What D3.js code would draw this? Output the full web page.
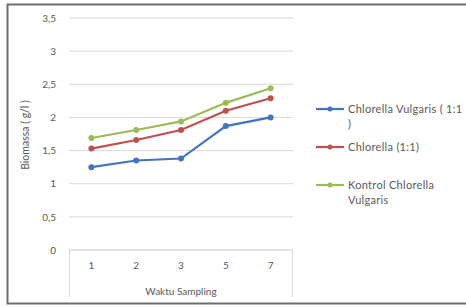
<!DOCTYPE html>
<html>
<head>
<meta charset="utf-8">
<script src="https://cdn.jsdelivr.net/npm/d3@7"></script>
<style>
  body { margin: 0; background: #fff; }
  text { font-family: Lato, "Open Sans", sans-serif; fill: #595959; }
</style>
</head>
<body>
<div id="chart-area"></div>
<script>
// data
var categories = ["1", "2", "3", "5", "7"];
var seriesNames = ["Chlorella Vulgaris ( 1:1 )", "Chlorella (1:1)", "Kontrol Chlorella Vulgaris"];
var vulgaris = [1.25, 1.35, 1.38, 1.87, 2.0];
var chlorella = [1.53, 1.66, 1.81, 2.10, 2.29];
var kontrol = [1.69, 1.81, 1.94, 2.22, 2.44];
var colors = ["#4472c4", "#c0504d", "#9bbb59"];
var yTicks = [0, 0.5, 1, 1.5, 2, 2.5, 3, 3.5];

var series = [vulgaris, chlorella, kontrol];

var W = 466, H = 307;
var margin = { left: 69, top: 18, right: 173, bottom: 57 };
var width = W - margin.left - margin.right,
    height = H - margin.top - margin.bottom;

var svg = d3.select("#chart-area")
  .append("svg")
  .attr("width", W)
  .attr("height", H);

// frame
svg.append("path")
  .attr("d", "M470,4.5 H7.5 V303.5 H470")
  .attr("fill", "none")
  .attr("stroke", "#6d6d6d")
  .attr("stroke-width", 2);

var g = svg.append("g")
  .attr("transform", "translate(" + margin.left + "," + margin.top + ")");

var x = d3.scaleBand().domain(categories).range([0, width]);
var y = d3.scaleLinear().domain([0, 3.5]).range([height, 0]);

// gridlines
g.selectAll(".grid")
  .data(yTicks)
  .enter().append("line")
  .attr("x1", 0).attr("x2", width)
  .attr("y1", d => y(d)).attr("y2", d => y(d))
  .attr("stroke", "#d9d9d9")
  .attr("stroke-width", 1);

// y axis labels
var yAxis = d3.axisLeft(y).tickValues(yTicks)
  .tickFormat(d => String(d).replace(".", ","))
  .tickSize(0).tickPadding(13);
var yg = g.append("g").call(yAxis);
yg.select(".domain").remove();
yg.selectAll("text").attr("font-size", "10px").style("fill", "#595959")
  .style("font-family", "Lato, sans-serif");

// x axis box
g.append("path")
  .attr("d", "M0.5," + (height + 47) + " V" + height + " H" + (width - 0.5) + " V" + (height + 47))
  .attr("fill", "none")
  .attr("stroke", "#d9d9d9");

var xAxis = d3.axisBottom(x).tickSize(0).tickPadding(12);
var xg = g.append("g").attr("transform", "translate(0," + height + ")").call(xAxis);
xg.select(".domain").remove();
xg.selectAll("text").attr("font-size", "10px").style("fill", "#595959")
  .style("font-family", "Lato, sans-serif");

// axis titles
g.append("text")
  .attr("x", width / 2)
  .attr("y", height + 45)
  .attr("text-anchor", "middle")
  .attr("font-size", "10px")
  .text("Waktu Sampling");

g.append("text")
  .attr("transform", "translate(" + (29 - margin.left) + "," + (135 - margin.top) + ") rotate(-90)")
  .attr("text-anchor", "middle")
  .attr("font-size", "10.5px")
  .text("Biomassa ( g/l )");

// lines
var line = d3.line()
  .x((d, i) => x(categories[i]) + x.bandwidth() / 2)
  .y(d => y(d));

series.forEach(function(s, k) {
  g.append("path")
    .datum(s)
    .attr("d", line)
    .attr("fill", "none")
    .attr("stroke", colors[k])
    .attr("stroke-width", 2.2);
  g.selectAll(".pt" + k)
    .data(s)
    .enter().append("circle")
    .attr("cx", (d, i) => x(categories[i]) + x.bandwidth() / 2)
    .attr("cy", d => y(d))
    .attr("r", 3)
    .attr("fill", colors[k]);
});

// legend
var legendLines = [["Chlorella Vulgaris ( 1:1", ")"], ["Chlorella (1:1)"], ["Kontrol Chlorella", "Vulgaris"]];
var legendY = [109, 147, 185];
var lg = svg.append("g");
legendLines.forEach(function(lines, k) {
  lg.append("line")
    .attr("x1", 316).attr("x2", 344)
    .attr("y1", legendY[k]).attr("y2", legendY[k])
    .attr("stroke", colors[k]).attr("stroke-width", 2.2);
  lg.append("circle")
    .attr("cx", 330).attr("cy", legendY[k]).attr("r", 2.5)
    .attr("fill", colors[k]);
  lines.forEach(function(t, j) {
    lg.append("text")
      .attr("x", 348)
      .attr("y", legendY[k] + 4 + j * 15)
      .attr("font-size", "11px")
      .attr("letter-spacing", "0.3px")
      .text(t);
  });
});
</script>
</body>
</html>
